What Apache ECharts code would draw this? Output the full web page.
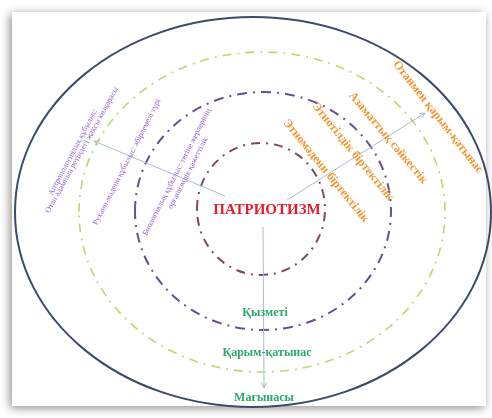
<!DOCTYPE html>
<html>
<head>
<meta charset="utf-8">
<script src="https://cdn.jsdelivr.net/npm/echarts@6/dist/echarts.min.js"></script>
<style>
  html, body { margin: 0; padding: 0; background: #fff; }
  #main { width: 492px; height: 418px; }
</style>
</head>
<body>
<div id="main"></div>
<script>
// центр
var centerTitle = 'ПАТРИОТИЗМ';
// сол жақ (күлгін) мәтіндер
var leftLabels = [
  'Антропологиялық құбылыс:',
  'Отан адамның ретіндегі жақсы көзқарасы',
  'Рухани-мәдени құбылыс: әбірлемелі түрі',
  'Биологиялық құбылыс: тегіне жерлерінің',
  'организмдік қажеттілік'
];
// оң жақ (қызғылт сары) мәтіндер
var rightLabels = [
  'Отанмен қарым-қатынас',
  'Азаматтық сәйкестік',
  'Этнотілдік біртектілік',
  'Этномәдени біртектілік'
];
// төменгі (жасыл) мәтіндер
var bottomLabels = ['Қызметі', 'Қарым-қатынас', 'Мағынасы'];

var chart = echarts.init(document.getElementById('main'));

var serif = '"Liberation Serif", "DejaVu Serif", serif';
var deg = Math.PI / 180;

function ring(cx, cy, rx, ry, color, width, dash) {
  return {
    type: 'ellipse',
    shape: { cx: cx, cy: cy, rx: rx, ry: ry },
    style: { fill: 'none', stroke: color, lineWidth: width, lineDash: dash }
  };
}

function arrow(x1, y1, x2, y2) {
  var a = Math.atan2(y2 - y1, x2 - x1);
  var l = 6, w = 0.45;
  return [
    { type: 'line', shape: { x1: x1, y1: y1, x2: x2, y2: y2 },
      style: { stroke: '#a9bdd6', lineWidth: 1 } },
    { type: 'polyline', shape: { points: [
        [x2 - l * Math.cos(a - w), y2 - l * Math.sin(a - w)],
        [x2, y2],
        [x2 - l * Math.cos(a + w), y2 - l * Math.sin(a + w)]
      ] },
      style: { stroke: '#a9bdd6', lineWidth: 1, fill: 'none' } }
  ];
}

function label(text, x, y, rot, size, color, bold) {
  return {
    type: 'text', x: x, y: y, rotation: rot * deg,
    style: {
      text: text, fill: color, align: 'center', verticalAlign: 'middle',
      font: (bold ? 'bold ' : '') + size + 'px ' + serif
    }
  };
}

var els = [];
// карточка
els.push({
  type: 'rect', shape: { x: 12, y: 12, width: 474, height: 394 },
  style: { fill: '#fff', shadowBlur: 9, shadowColor: 'rgba(0,0,0,0.45)', shadowOffsetX: -2, shadowOffsetY: 2 }
});
// шеңберлер
els.push(ring(253, 212, 238, 195, '#3b4b68', 2, null));
els.push(ring(262, 212, 183, 160, '#b9d86e', 1.6, [9, 6, 2, 6]));
els.push(ring(263, 211, 128, 119, '#6a4f8f', 2, [10, 6, 2, 6]));
els.push(ring(261, 209, 64, 66, '#7d4d57', 2, [9, 6, 2, 6]));
// бағыттар
els = els.concat(arrow(225, 196, 94, 141));
els = els.concat(arrow(287, 200, 425, 113));
els = els.concat(arrow(263, 227, 264, 388));

// сол жақ
var leftPos = [[73, 152, 62], [82, 150, 61], [127, 162, 63], [177, 172, 63], [188, 173, 63]];
leftLabels.forEach(function (t, i) {
  var p = leftPos[i];
  els.push(label(t, p[0], p[1], p[2], 8, '#8f63d6', false));
});
// оң жақ
var rightPos = [[438, 117, -52], [388, 138, -50], [353, 152, -51], [326, 171, -51]];
rightLabels.forEach(function (t, i) {
  var p = rightPos[i];
  els.push(label(t, p[0], p[1], p[2], 12, '#f2952f', true));
});
// төмен
var bottomPos = [[265, 313], [267, 353], [264, 398]];
bottomLabels.forEach(function (t, i) {
  var p = bottomPos[i];
  els.push(label(t, p[0], p[1], 0, 12, '#2aa870', true));
});
// орталық
els.push(label(centerTitle, 267, 210, 0, 15, '#e0202e', true));

chart.setOption({
  backgroundColor: '#fff',
  graphic: els
});
</script>
</body>
</html>
